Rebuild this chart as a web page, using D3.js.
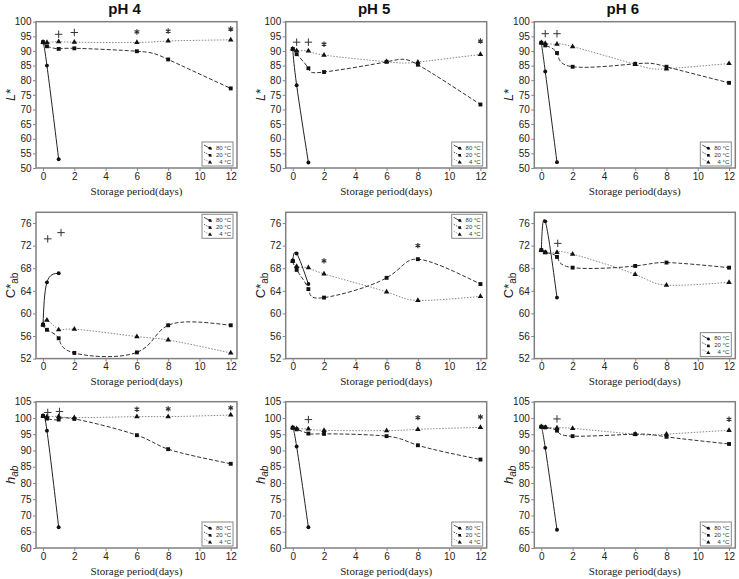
<!DOCTYPE html>
<html>
<head>
<meta charset="utf-8">
<script src="https://cdn.jsdelivr.net/npm/d3@7"></script>
<style>
body { margin: 0; background: #fff; }
text { font-family: "Liberation Sans", Arial, sans-serif; }
.tick text { font-size: 10px; fill: #222; }
.tick line { stroke: #888; }
.xlab { font-family: "Liberation Serif", "Times New Roman", serif; font-size: 11px; fill: #222; }
</style>
</head>
<body>
<script>
const width = 739;
const height = 579;

// storage days
const days = [0, 0.25, 1, 2, 6, 8, 12];
const daysHot = [0, 0.25, 1];
const phLabels = ["pH 4", "pH 5", "pH 6"];
const tempLabels = ["80 \u00B0C", "20 \u00B0C", "4 \u00B0C"];
const xTicks = [0, 2, 4, 6, 8, 10, 12];

// L* values, one row per pH
const L80 = [[93.0, 85.0, 53.0], [90.7, 78.3, 51.9], [92.8, 83.0, 52.0]];
const L20 = [[93.0, 91.6, 90.7, 90.9, 89.9, 87.1, 77.2],
             [90.7, 88.9, 84.1, 82.8, 86.3, 85.3, 71.7],
             [92.8, 91.9, 89.3, 84.6, 85.6, 84.6, 79.1]];
const L4  = [[93.0, 92.9, 93.2, 93.0, 92.9, 93.4, 93.8],
             [90.7, 90.1, 90.0, 88.6, 86.3, 86.2, 88.8],
             [92.8, 92.6, 92.3, 91.5, 85.4, 83.9, 85.7]];
const Lsig = [[[1, 95.7, "+"], [2, 96.3, "+"], [6, 96.5, "*"], [8, 96.8, "*"], [12, 97.5, "*"]],
              [[0.25, 93.0, "+"], [1, 93.0, "+"], [2, 92.3, "*"], [12, 93.4, "*"]],
              [[0.25, 95.9, "+"], [1, 95.9, "+"]]];
const Lticks = [50, 55, 60, 65, 70, 75, 80, 85, 90, 95, 100];

// C*ab values
const C80 = [[58.0, 65.5, 67.1], [69.3, 70.6, 65.2], [71.2, 76.3, 62.8]];
const C20 = [[58.0, 57.1, 55.6, 53.0, 53.1, 57.9, 57.9],
             [69.3, 67.7, 64.3, 62.8, 66.3, 69.6, 65.2],
             [71.2, 70.8, 70.0, 68.1, 68.4, 69.0, 68.1]];
const C4  = [[58.0, 58.8, 57.1, 57.2, 55.9, 55.3, 53.0],
             [69.3, 68.3, 68.1, 67.0, 63.8, 62.3, 63.0],
             [71.2, 70.8, 70.8, 70.5, 66.9, 65.0, 65.5]];
const Csig = [[[0.3, 73.2, "+"], [1.15, 74.3, "+"]],
              [[2, 69.3, "*"], [8, 72.0, "*"]],
              [[1.05, 72.4, "+"]]];
const Cticks = [52, 56, 60, 64, 68, 72, 76];

// hab values
const H80 = [[100.6, 96.1, 66.4], [97.0, 91.2, 66.4], [97.3, 90.8, 65.6]];
const H20 = [[100.6, 99.8, 99.5, 99.7, 94.7, 90.4, 85.9],
             [97.0, 96.5, 95.2, 95.1, 94.4, 91.6, 87.2],
             [97.3, 97.1, 96.1, 94.4, 95.0, 94.2, 92.0]];
const H4  = [[100.6, 100.4, 100.5, 100.1, 100.4, 100.4, 100.9],
             [97.0, 96.7, 96.6, 96.2, 96.1, 96.5, 97.1],
             [97.3, 97.1, 96.9, 96.8, 95.0, 95.0, 96.2]];
const Hsig = [[[0.3, 101.7, "+"], [1.05, 102.0, "+"], [6, 102.7, "*"], [8, 102.8, "*"], [12, 103.1, "*"]],
              [[1, 99.5, "+"], [8, 100.1, "*"], [12, 100.3, "*"]],
              [[1, 99.7, "+"], [12, 99.6, "*"]]];
const Hticks = [60, 65, 70, 75, 80, 85, 90, 95, 100, 105];

// layout
const colLeft = [36, 285.7, 534.3];
const rowTop = [21.7, 212.3, 401.7];
const panelW = 201;
const panelH = 146.3;
const legendPos = [["br", "br", "br"], ["tr", "tr", "br"], ["br", "br", "br"]];

const rows = [
  {hot: L80, mid: L20, cold: L4, sig: Lsig, dom: [50, 100], ticks: Lticks, lab: "L"},
  {hot: C80, mid: C20, cold: C4, sig: Csig, dom: [52, 77.9], ticks: Cticks, lab: "C"},
  {hot: H80, mid: H20, cold: H4, sig: Hsig, dom: [60, 105], ticks: Hticks, lab: "h"}
];

const styles = [
  {stroke: "#222", dash: null, sym: d3.symbolCircle, size: 12},
  {stroke: "#333", dash: "4,2", sym: d3.symbolSquare, size: 15},
  {stroke: "#888", dash: "1.5,1.5", sym: d3.symbolTriangle, size: 13}
];

const svg = d3.select('body')
  .append('svg')
  .attr('width', width)
  .attr('height', height);

function drawPanel(r, c) {
  const row = rows[r];
  const left = colLeft[c], top = rowTop[r];
  const x = d3.scaleLinear().domain([-0.45, 12.4]).range([left, left + panelW]);
  const y = d3.scaleLinear().domain(row.dom).range([top + panelH, top]);
  const g = svg.append('g');

  // axes
  g.append('g')
    .attr('transform', `translate(0,${top + panelH})`)
    .call(d3.axisBottom(x).tickValues(xTicks).tickSize(3).tickPadding(1.5))
    .call(a => a.select('.domain').remove());
  g.append('g')
    .attr('transform', `translate(${left},0)`)
    .call(d3.axisLeft(y).tickValues(row.ticks).tickSize(3).tickPadding(1.5))
    .call(a => a.select('.domain').remove());

  // frame
  g.append('rect')
    .attr('x', left).attr('y', top)
    .attr('width', panelW).attr('height', panelH)
    .attr('fill', 'none')
    .attr('stroke', '#808080')
    .attr('stroke-width', 1.5);

  const line = d3.line()
    .x(d => x(d[0]))
    .y(d => y(d[1]))
    .curve(d3.curveNatural);

  const series = [
    d3.zip(daysHot, row.hot[c]),
    d3.zip(days, row.mid[c]),
    d3.zip(days, row.cold[c])
  ];

  // lines, coldest first so the hot curve sits on top
  [2, 1, 0].forEach(i => {
    g.append('path')
      .attr('d', line(series[i]))
      .attr('fill', 'none')
      .attr('stroke', styles[i].stroke)
      .attr('stroke-width', 1)
      .attr('stroke-dasharray', styles[i].dash);
  });
  [2, 1, 0].forEach(i => {
    g.selectAll(null)
      .data(series[i])
      .enter()
      .append('path')
      .attr('transform', d => `translate(${x(d[0])},${y(d[1])})`)
      .attr('d', d3.symbol().type(styles[i].sym).size(styles[i].size))
      .attr('fill', '#111');
  });

  // significance marks
  g.selectAll(null)
    .data(row.sig[c])
    .enter()
    .append('path')
    .attr('transform', d => `translate(${x(d[0])},${y(d[1])})`)
    .attr('d', d => d3.symbol().type(d[2] === "+" ? d3.symbolPlus : d3.symbolAsterisk)
                     .size(d[2] === "+" ? 20 : 20)())
    .attr('fill', 'none')
    .attr('stroke', '#333')
    .attr('stroke-width', d => d[2] === "+" ? 1 : 1.2);

  // legend
  const lw = 31, lh = 24;
  const bx = left + panelW - lw - 4;
  const by = legendPos[r][c] === "br" ? top + panelH - lh - 2 : top + 2;
  const lg = g.append('g');
  lg.append('rect')
    .attr('x', bx).attr('y', by)
    .attr('width', lw).attr('height', lh)
    .attr('fill', '#fff')
    .attr('stroke', '#888')
    .attr('stroke-width', 1);
  tempLabels.forEach((t, i) => {
    const ry = by + 5.5 + i * 7;
    lg.append('line')
      .attr('x1', bx + 2).attr('y1', ry - 2.5)
      .attr('x2', bx + 10).attr('y2', ry + 2)
      .attr('stroke', styles[i].stroke)
      .attr('stroke-width', 0.8)
      .attr('stroke-dasharray', i === 0 ? null : "1.5,1");
    lg.append('path')
      .attr('transform', `translate(${bx + 8},${ry + 0.8})`)
      .attr('d', d3.symbol().type(styles[i].sym).size(7))
      .attr('fill', '#111');
    lg.append('text')
      .attr('x', bx + lw - 2).attr('y', ry + 2.3)
      .attr('text-anchor', 'end')
      .style('font-size', '6px')
      .attr('fill', '#333')
      .text(t);
  });

  // x label
  g.append('text')
    .attr('class', 'xlab')
    .attr('x', left + panelW / 2)
    .attr('y', top + panelH + 26.5)
    .attr('text-anchor', 'middle')
    .text('Storage period(days)');

  // y label
  const yl = g.append('text')
    .attr('transform', `translate(${left - 21},${top + panelH / 2}) rotate(-90)`)
    .attr('text-anchor', 'middle')
    .style('font-size', '13px')
    .attr('fill', '#222');
  if (row.lab === "L") {
    yl.append('tspan').text('L').style('font-style', 'italic');
    yl.append('tspan').text('*');
  } else if (row.lab === "C") {
    yl.append('tspan').text('C*');
    yl.append('tspan').text('ab').attr('dy', 3).style('font-size', '10px');
  } else {
    yl.append('tspan').text('h').style('font-style', 'italic');
    yl.append('tspan').text('ab').attr('dy', 3).style('font-size', '10px').style('font-style', 'italic');
  }

  // title
  if (r === 0) {
    svg.append('text')
      .attr('x', left + panelW / 2 - 12)
      .attr('y', 14)
      .attr('text-anchor', 'middle')
      .style('font-size', '15px')
      .style('font-weight', 'bold')
      .attr('fill', '#111')
      .text(phLabels[c]);
  }
}

for (let r = 0; r < 3; r++) {
  for (let c = 0; c < 3; c++) drawPanel(r, c);
}
</script>
</body>
</html>
